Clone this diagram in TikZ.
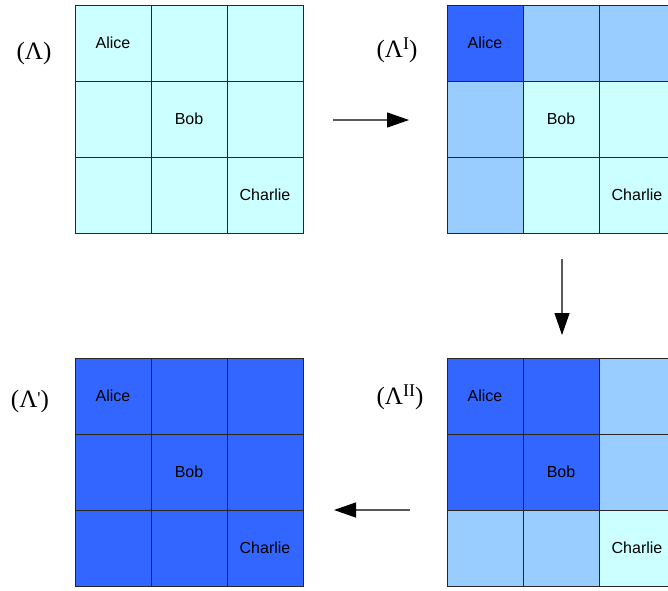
\documentclass[tikz,border=0pt]{standalone}
\usepackage{fontspec}
\setmainfont{Liberation Serif}
\newfontfamily\cellfont{Liberation Sans}
\newfontfamily\rawserif{Liberation Serif}
\usetikzlibrary{arrows.meta}
\definecolor{cpale}{HTML}{CCFFFF}
\definecolor{cmid}{HTML}{99CCFF}
\definecolor{cdeep}{HTML}{3366FF}
\tikzset{
  cell/.style={draw=black!85, line width=1pt, minimum width=76pt, minimum height=76pt,
    inner sep=0pt, outer sep=0pt, font=\cellfont\fontsize{16}{19}\selectfont},
  lbl/.style={font=\fontsize{25}{30}\selectfont, anchor=base, inner sep=0pt},
  flow/.style={draw=black!65, line width=1.2pt, -{Triangle[length=22pt,width=15pt,color=black]}}
}
\newcommand{\supI}[1]{\raisebox{8pt}{\fontsize{18}{18}\selectfont #1}}
\begin{document}
\begin{tikzpicture}[x=1pt,y=-1pt]
\useasboundingbox (0,0) rectangle (668,590);
% grid A (top left)
\foreach \r/\c/\col/\t in {0/0/cpale/Alice,0/1/cpale/{},0/2/cpale/{},
  1/0/cpale/{},1/1/cpale/Bob,1/2/cpale/{},
  2/0/cpale/{},2/1/cpale/{},2/2/cpale/Charlie}
  \node[cell, fill=\col] (A\r\c) at ({113+76*\c},{43+76*\r}) {\t};
% grid B (top right)
\foreach \r/\c/\col/\t in {0/0/cdeep/Alice,0/1/cmid/{},0/2/cmid/{},
  1/0/cmid/{},1/1/cpale/Bob,1/2/cpale/{},
  2/0/cmid/{},2/1/cpale/{},2/2/cpale/Charlie}
  \node[cell, fill=\col] (B\r\c) at ({485+76*\c},{43+76*\r}) {\t};
% grid C (bottom right)
\foreach \r/\c/\col/\t in {0/0/cdeep/Alice,0/1/cdeep/{},0/2/cmid/{},
  1/0/cdeep/{},1/1/cdeep/Bob,1/2/cmid/{},
  2/0/cmid/{},2/1/cmid/{},2/2/cpale/Charlie}
  \node[cell, fill=\col] (C\r\c) at ({485+76*\c},{396+76*\r}) {\t};
% grid D (bottom left)
\foreach \r/\c/\col/\t in {0/0/cdeep/Alice,0/1/cdeep/{},0/2/cdeep/{},
  1/0/cdeep/{},1/1/cdeep/Bob,1/2/cdeep/{},
  2/0/cdeep/{},2/1/cdeep/{},2/2/cdeep/Charlie}
  \node[cell, fill=\col] (D\r\c) at ({113+76*\c},{396+76*\r}) {\t};
% labels
\node[lbl] (LA) at (34,59) {(Λ)};
\node[lbl] (LB) at (397,57) {(Λ\supI{I})};
\node[lbl] (LD) at (30,407) {(Λ\raisebox{3pt}{\rawserif\fontsize{18}{18}\selectfont\symbol{"0027}})};
\node[lbl] (LC) at (400,404) {(Λ\supI{II})};
% arrows
\coordinate (a1s) at (333,120); \coordinate (a1e) at (409,120);
\coordinate (a2s) at (562,259); \coordinate (a2e) at (562,335);
\coordinate (a3s) at (410,510); \coordinate (a3e) at (334,510);
\draw[flow] (a1s) -- (a1e);
\draw[flow] (a2s) -- (a2e);
\draw[flow] (a3s) -- (a3e);
\end{tikzpicture}
\end{document}
